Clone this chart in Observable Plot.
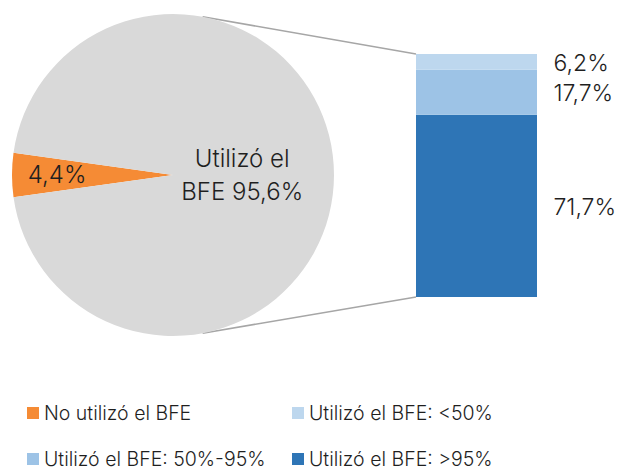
<!DOCTYPE html>
<html><head><meta charset="utf-8">
<script src="https://cdn.jsdelivr.net/npm/d3@7"></script>
<script src="https://cdn.jsdelivr.net/npm/@observablehq/plot@0.6"></script>
<style>
body{margin:0;background:#fff;font-family:Inter,sans-serif;font-weight:300;color:#1f1f1f;overflow:hidden;}
#legend{position:relative;height:83px;width:623px;font-size:19.5px;}
.item{position:absolute;display:flex;align-items:center;white-space:nowrap;height:18px;line-height:18px;}
.sw{width:12px;height:12px;margin-right:5px;}
</style></head><body><div id="chart"></div><div id="legend"></div>
<script>
const pieCategories = ["No utilizó el BFE", "Utilizó el BFE"];
const pieValues = [4.4, 95.6];
const pieLabels = [["4,4%"], ["Utilizó el", "BFE 95,6%"]];
const barCategories = ["Utilizó el BFE: >95%", "Utilizó el BFE: 50%-95%", "Utilizó el BFE: <50%"];
const barValues = [71.7, 17.7, 6.2];
const barLabels = ["71,7%", "17,7%", "6,2%"];
const legendOrder = ["No utilizó el BFE", "Utilizó el BFE: <50%", "Utilizó el BFE: 50%-95%", "Utilizó el BFE: >95%"];

const barTotal = d3.sum(barValues);
const ends = d3.cumsum(barValues);
const barData = barCategories.map((c, i) => ({cat: c, value: barValues[i], label: barLabels[i], mid: ends[i] - barValues[i] / 2}));

const W = 623, H = 390;
const PIE = {cx: 173, cy: 175, r: 161};
const BAR = {x1: 416, x2: 537};

function pieMark(index, scales, values, dims) {
  const {x, y, color} = scales;
  const total = d3.sum(pieValues);
  const a0 = -Math.PI / 2 - Math.PI * pieValues[0] / total;
  const arcs = d3.pie().sort(null).startAngle(a0).endAngle(a0 + 2 * Math.PI)(pieValues);
  const arc = d3.arc().innerRadius(0).outerRadius(PIE.r);
  const cx = x(PIE.cx), cy = PIE.cy;
  const g = d3.create("svg:g");
  const th = 10.6 * Math.PI / 180;
  const px = cx + PIE.r * Math.sin(th);
  g.append("line").attr("x1", px).attr("y1", cy - PIE.r * Math.cos(th))
    .attr("x2", x(BAR.x1)).attr("y2", y(barTotal))
    .attr("stroke", "#a6a6a6").attr("stroke-width", 1.6);
  g.append("line").attr("x1", px).attr("y1", cy + PIE.r * Math.cos(th))
    .attr("x2", x(BAR.x1)).attr("y2", y(0))
    .attr("stroke", "#a6a6a6").attr("stroke-width", 1.6);
  const slices = g.append("g").attr("transform", `translate(${cx},${cy})`);
  slices.selectAll("path").data(arcs).join("path")
    .attr("d", arc).attr("fill", (d, i) => color(pieCategories[i]));
  const labelR = [0.72, 0.43];
  arcs.forEach((d, i) => {
    const [lx, ly] = d3.arc().innerRadius(0).outerRadius(2 * PIE.r * labelR[i]).centroid(d);
    const lines = pieLabels[i];
    const t = slices.append("text").attr("text-anchor", "middle")
      .attr("font-size", 24).attr("font-weight", 300).attr("fill", "#1f1f1f");
    lines.forEach((s, j) => {
      t.append("tspan").attr("x", lx)
        .attr("y", ly + (j - (lines.length - 1) / 2) * 33)
        .attr("dy", "0.35em").text(s);
    });
  });
  return g.node();
}

const plot = Plot.plot({
  width: W, height: H,
  margin: 0,
  style: {fontFamily: "Inter, sans-serif", background: "#fff"},
  x: {domain: [0, W], range: [0, W], axis: null},
  y: {domain: [0, barTotal], range: [297, 54], axis: null},
  color: {
    domain: ["No utilizó el BFE", "Utilizó el BFE", "Utilizó el BFE: <50%", "Utilizó el BFE: 50%-95%", "Utilizó el BFE: >95%"],
    range: ["#f58b35", "#d9d9d9", "#bdd7ee", "#9dc3e6", "#2e75b6"]
  },
  marks: [
    pieMark,
    Plot.rectY(barData, {x1: BAR.x1, x2: BAR.x2, y: "value", fill: "cat"}),
    Plot.text(barData, {x: 553, y: "mid", text: "label", textAnchor: "start", fontSize: 23, fontWeight: 300, fill: "#1f1f1f", dy: 1})
  ]
});
document.getElementById("chart").appendChild(plot);

const colorScale = plot.scale("color");
const cmap = new Map(colorScale.domain.map((d, i) => [d, colorScale.range[i]]));
const legend = d3.select("#legend");
const legendPos = [[27, 14], [292, 14], [27, 60], [292, 60]];
legendOrder.forEach((c, i) => {
  const it = legend.append("div").attr("class", "item")
    .style("left", legendPos[i][0] + "px").style("top", legendPos[i][1] + "px");
  it.append("div").attr("class", "sw").style("background", cmap.get(c));
  it.append("span").text(c);
});
</script></body></html>
